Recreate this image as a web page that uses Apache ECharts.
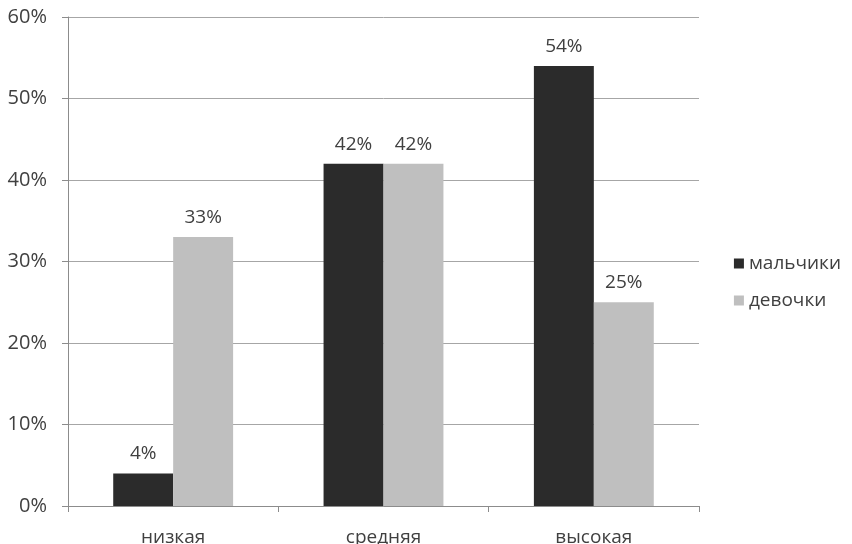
<!DOCTYPE html>
<html><head><meta charset="utf-8">
<script src="https://cdn.jsdelivr.net/npm/echarts@6/dist/echarts.min.js"></script>
<style>html,body{margin:0;padding:0;background:#fff}#c{width:852px;height:544px}</style>
</head><body><div id="c"></div>
<script>
const categories = ['низкая', 'средняя', 'высокая'];
const boys = [4, 42, 54];
const girls = [33, 42, 25];
const seriesNames = ['мальчики', 'девочки'];
const yTicks = [0, 10, 20, 30, 40, 50, 60];

const font = '"Open Sans", "DejaVu Sans", sans-serif';
const txt = '#404040';
const fs = 19;
const chart = echarts.init(document.getElementById('c'));
const label = {show: true, position: 'top', distance: 10, formatter: p => p.value + '%', color: txt, fontSize: fs, fontFamily: font};
chart.setOption({
  animation: false,
  grid: {left: 68, right: 153, top: 17, bottom: 38, containLabel: false, outerBoundsMode: 'none'},
  legend: {
    orient: 'vertical', right: 6, top: 249, itemWidth: 10, itemHeight: 10, itemGap: 18,
    icon: 'rect', data: seriesNames,
    textStyle: {color: txt, fontSize: fs, fontFamily: font}
  },
  xAxis: {
    type: 'category', data: categories,
    axisLine: {lineStyle: {color: '#8c8c8c'}},
    axisTick: {show: true, length: 6, lineStyle: {color: '#8c8c8c'}},
    axisLabel: {color: txt, fontSize: fs, fontFamily: font, margin: 22}
  },
  yAxis: {
    type: 'value', min: yTicks[0], max: yTicks[yTicks.length - 1], interval: 10,
    axisLine: {show: true, lineStyle: {color: '#8c8c8c'}},
    axisTick: {show: true, length: 6, lineStyle: {color: '#8c8c8c'}},
    splitLine: {lineStyle: {color: '#a6a6a6'}},
    axisLabel: {formatter: '{value}%', color: txt, fontSize: 20, fontFamily: font, margin: 21}
  },
  series: [
    {name: seriesNames[0], type: 'bar', data: boys, barGap: '0%', barCategoryGap: '43%',
     itemStyle: {color: '#2b2b2b'}, label},
    {name: seriesNames[1], type: 'bar', data: girls, barGap: '0%', barCategoryGap: '43%',
     itemStyle: {color: '#bfbfbf'}, label}
  ]
});
</script></body></html>
